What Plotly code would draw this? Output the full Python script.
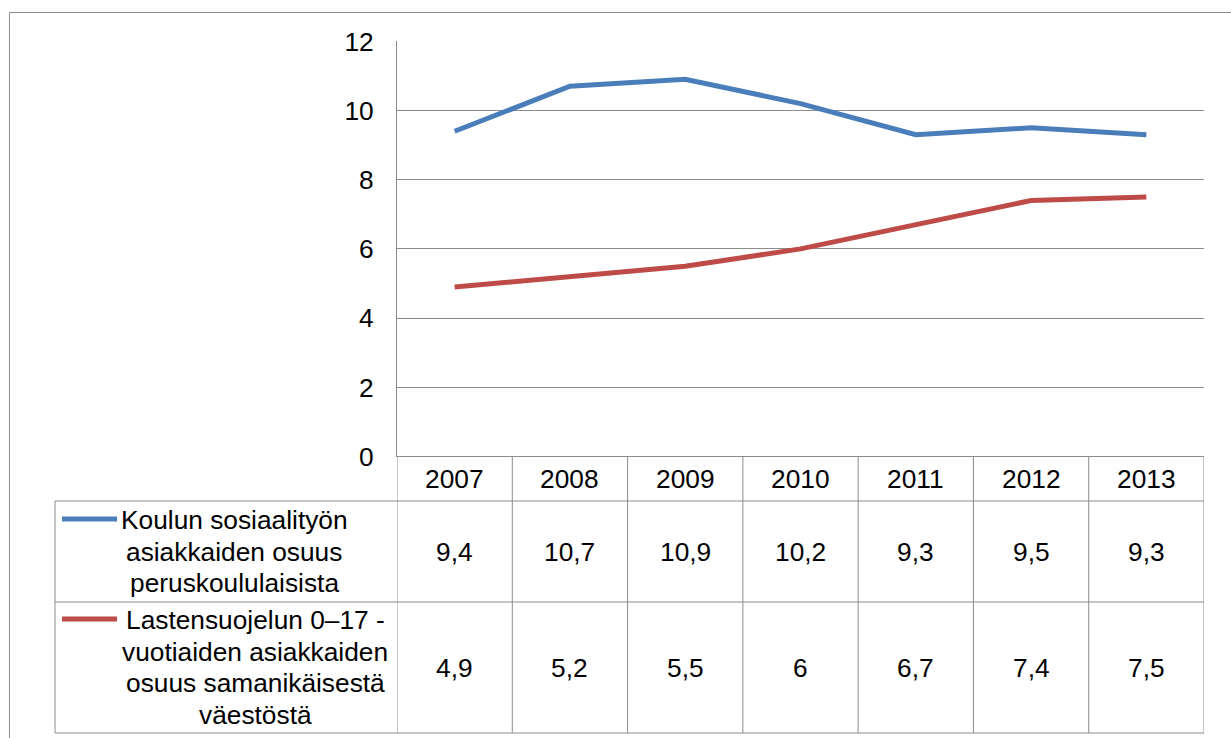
import plotly.graph_objects as go

# ---- data ----
years = ["2007", "2008", "2009", "2010", "2011", "2012", "2013"]
koulu_values = [9.4, 10.7, 10.9, 10.2, 9.3, 9.5, 9.3]
lasten_values = [4.9, 5.2, 5.5, 6, 6.7, 7.4, 7.5]
koulu_label = ["Koulun sosiaalityön", "asiakkaiden osuus", "peruskoululaisista"]
lasten_label = ["Lastensuojelun 0–17 -", "vuotiaiden asiakkaiden", "osuus samanikäisestä", "väestöstä"]
y_ticks = [0, 2, 4, 6, 8, 10, 12]

# ---- layout helpers ----
W, H = 1231, 738
def px(x):
    return x / W
def py(y):
    return 1 - y / H

BLUE = "#4A7EBB"
RED = "#BE4B48"
GRID = "#8C8C8C"
FONT = "Liberation Sans, Arial, sans-serif"
FS = 26.3
LINE_H = 31.6

plot_left, plot_right = 397, 1204
plot_top, plot_bottom = 41.3, 456.5
hdr_bottom, row1_bottom, row2_bottom = 501, 602, 733
table_left = 55

fig = go.Figure()
fig.add_trace(go.Scatter(x=list(range(len(years))), y=koulu_values, mode="lines",
                         line=dict(color=BLUE, width=5), name=" ".join(koulu_label)))
fig.add_trace(go.Scatter(x=list(range(len(years))), y=lasten_values, mode="lines",
                         line=dict(color=RED, width=5), name=" ".join(lasten_label)))

fig.update_layout(
    width=W, height=H,
    margin=dict(l=0, r=0, t=0, b=0, autoexpand=False),
    paper_bgcolor="white", plot_bgcolor="white",
    showlegend=False,
    font=dict(family=FONT, size=FS, color="black"),
    xaxis=dict(domain=[px(plot_left), px(plot_right)], automargin=False,
               range=[-0.5, len(years) - 0.5], showticklabels=False,
               showgrid=False, zeroline=False, showline=False, ticks=""),
    yaxis=dict(domain=[py(plot_bottom), py(plot_top)], range=[0, 12], automargin=False,
               tickvals=y_ticks, ticktext=[str(v) for v in y_ticks],
               showgrid=True, gridcolor=GRID, gridwidth=1,
               zeroline=False, showline=True, linecolor=GRID, linewidth=1,
               ticks="", ticklabelstandoff=17,
               tickfont=dict(family=FONT, size=FS, color="black")),
)

shapes = []
line_style = dict(color=GRID, width=1)
# outer chart border
shapes.append(dict(type="rect", xref="paper", yref="paper",
                   x0=px(9.5), x1=px(1300), y0=py(12.5), y1=py(800),
                   line=line_style, fillcolor="rgba(0,0,0,0)", layer="above"))
# horizontal table lines
shapes.append(dict(type="line", xref="paper", yref="paper",
                   x0=px(plot_left), x1=px(plot_right), y0=py(plot_bottom), y1=py(plot_bottom), line=line_style))
for yb in [hdr_bottom, row1_bottom, row2_bottom]:
    shapes.append(dict(type="line", xref="paper", yref="paper",
                       x0=px(table_left), x1=px(plot_right), y0=py(yb), y1=py(yb), line=line_style))
# vertical table lines (column boundaries from the category axis)
for i in range(len(years) + 1):
    shapes.append(dict(type="line", xref="x", yref="paper",
                       x0=i - 0.5, x1=i - 0.5, y0=py(plot_bottom), y1=py(row2_bottom), line=line_style))
shapes.append(dict(type="line", xref="paper", yref="paper",
                   x0=px(table_left), x1=px(table_left), y0=py(hdr_bottom), y1=py(row2_bottom), line=line_style))

def fmt(v):
    return f"{v:g}".replace(".", ",")

ann = []
hdr_c = (plot_bottom + hdr_bottom) / 2
r1_c = (hdr_bottom + row1_bottom) / 2
r2_c = (row1_bottom + row2_bottom) / 2
for i, yr in enumerate(years):
    for txt, yc in [(yr, hdr_c), (fmt(koulu_values[i]), r1_c), (fmt(lasten_values[i]), r2_c)]:
        ann.append(dict(x=i, xref="x", y=py(yc), yref="paper", text=txt, showarrow=False,
                        xanchor="center", yanchor="middle", font=dict(size=FS)))

def add_label(lines, xc, yc, color):
    n = len(lines)
    first_y = yc - (n - 1) / 2 * LINE_H
    for k, t in enumerate(lines):
        ann.append(dict(x=px(xc), xref="paper", y=py(first_y + k * LINE_H), yref="paper", text=t,
                        showarrow=False, xanchor="center", yanchor="middle", font=dict(size=FS)))
    # legend key beside the first line
    shapes.append(dict(type="line", xref="paper", yref="paper",
                       x0=px(62), x1=px(117), y0=py(first_y - 1), y1=py(first_y - 1),
                       line=dict(color=color, width=5)))

add_label(koulu_label, 234.5, r1_c, BLUE)
add_label(lasten_label, 255, r2_c, RED)

fig.update_layout(shapes=shapes, annotations=ann)

fig.write_html("out.html")
